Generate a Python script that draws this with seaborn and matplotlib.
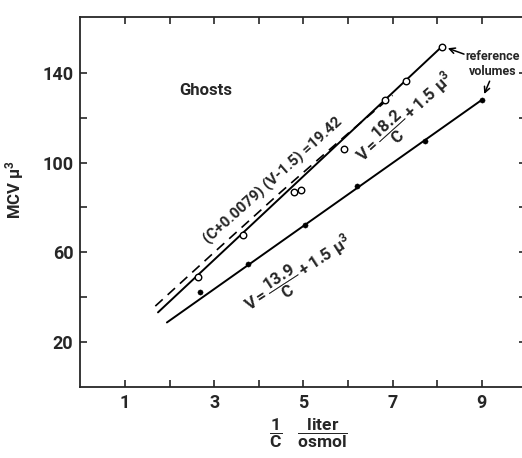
import matplotlib
matplotlib.use("Agg")
import matplotlib.pyplot as plt
import seaborn as sns

# open circles (upper line) and filled dots (lower line)
open_x = [2.64, 3.65, 4.80, 4.95, 5.92, 6.82, 7.30, 8.10]
open_y = [49.0, 67.8, 87.0, 88.0, 106.0, 128.0, 136.5, 151.7]
filled_x = [2.68, 3.76, 5.03, 6.20, 7.72, 9.00]
filled_y = [42.3, 54.8, 72.2, 89.6, 109.7, 128.0]

# fitted lines (end points) and dashed curve
upper_x = [1.74, 8.10]
upper_y = [33.2, 151.7]
lower_x = [1.94, 9.00]
lower_y = [28.7, 128.0]
dash_x = [1.68, 3.0, 4.5, 6.0, 7.0]
dash_y = [36.0, 60.0, 87.0, 113.0, 130.0]

x_labels = [1, 3, 5, 7, 9]
y_labels = [20, 60, 100, 140]

sns.set_style("ticks")
plt.rcParams["font.family"] = ["Roboto", "DejaVu Sans"]
plt.rcParams["font.weight"] = "bold"
plt.rcParams["mathtext.fontset"] = "custom"
plt.rcParams["mathtext.rm"] = "Roboto:bold"
plt.rcParams["mathtext.bf"] = "Roboto:bold"
plt.rcParams["mathtext.it"] = "Roboto:bold"

fig = plt.figure(figsize=(5.22, 4.58), dpi=100)
ax = fig.add_axes([0.154, 0.1555, 0.8544, 0.8074])

sns.lineplot(x=upper_x, y=upper_y, ax=ax, color="black", lw=1.4)
sns.lineplot(x=lower_x, y=lower_y, ax=ax, color="black", lw=1.4)
sns.lineplot(x=dash_x, y=dash_y, ax=ax, color="black", lw=1.2,
             linestyle=(0, (6, 4)))
sns.scatterplot(x=open_x, y=open_y, ax=ax, marker="o", s=22,
                facecolor="white", edgecolor="black", linewidth=1.0, zorder=3)
sns.scatterplot(x=filled_x, y=filled_y, ax=ax, marker="o", s=14,
                color="black", edgecolor="black", zorder=3)

ax.set_xlim(0, 10)
ax.set_ylim(0, 165)
ax.set_xticks(x_labels)
ax.set_xticks([2, 4, 6, 8], minor=True)
ax.set_yticks(y_labels)
ax.set_yticks([40, 80, 120], minor=True)
ax.tick_params(which="both", direction="in", length=5, width=1.2,
               top=True, right=True, labelsize=13, pad=5)
for lab in ax.get_xticklabels() + ax.get_yticklabels():
    lab.set_fontweight("bold")
for sp in ax.spines.values():
    sp.set_linewidth(1.3)

ax.text(2.8, 132, "Ghosts", fontsize=12, fontweight="bold", ha="center", va="center")
ax.text(4.32, 92, "(C+0.0079) (V-1.5) =19.42", fontsize=11, fontweight="bold",
        rotation=42, ha="center", va="center", rotation_mode="anchor")
ax.text(7.3, 120, r"$\mathbf{V=\dfrac{18.2}{C}+1.5\ \mu^3}$", fontsize=12,
        rotation=42, ha="center", va="center", rotation_mode="anchor")
ax.text(4.9, 50, r"$\mathbf{V=\dfrac{13.9}{C}+1.5\ \mu^3}$", fontsize=12,
        rotation=33, ha="center", va="center", rotation_mode="anchor")
ax.text(9.24, 144, "reference\nvolumes", fontsize=9, fontweight="bold",
        ha="center", va="center", linespacing=1.2)
ax.annotate("", xy=(8.18, 151.5), xytext=(8.66, 148),
            arrowprops=dict(arrowstyle="->", color="black", lw=1.1))
ax.annotate("", xy=(9.03, 129.5), xytext=(9.2, 137.5),
            arrowprops=dict(arrowstyle="->", color="black", lw=1.1))

fig.text(15 / 522, 1 - 190 / 458, r"MCV $\mathbf{\mu^3}$", rotation=90,
         fontsize=12, fontweight="bold", ha="center", va="center")
fig.text(308 / 522, 1 - 433 / 458,
         r"$\mathbf{\dfrac{1}{C}}\ \ \ \mathbf{\dfrac{liter}{osmol}}$",
         fontsize=12.5, ha="center", va="center")

fig.savefig("out.png", dpi=100)
